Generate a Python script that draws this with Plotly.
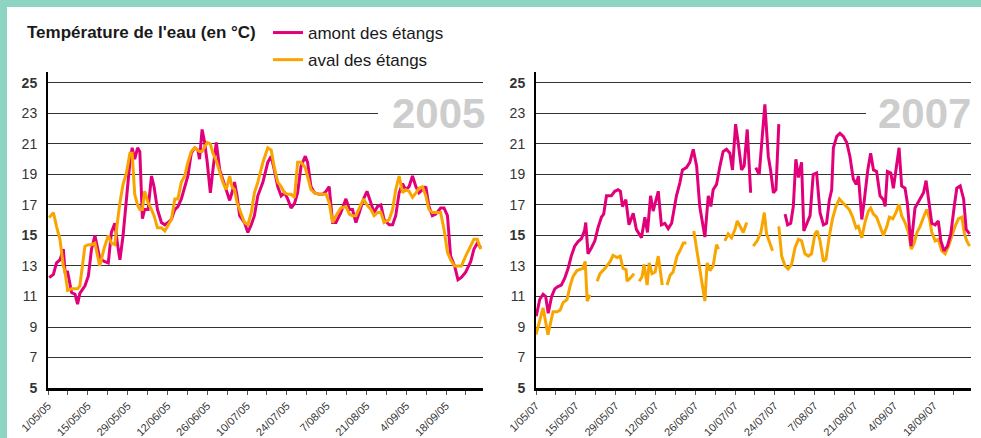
import plotly.graph_objects as go

# ---------------- data ----------------
# day offsets from 1 May
jours_2005 = [0.4,1.9,3.0,4.2,5.4,6.0,6.9,8.3,9.5,10.4,
              11.2,13.0,14.2,15.3,16.5,17.4,18.2,19.8,21.2,22.3,
              23.5,24.4,25.3,26.4,27.6,28.8,29.6,30.5,31.5,32.3,
              33.2,34.0,35.2,36.4,37.3,38.5,39.9,41.1,42.2,43.4,
              44.6,45.7,46.9,48.1,49.2,50.4,51.6,52.7,53.3,54.2,
              55.1,56.0,57.1,58.0,59.2,60.4,61.5,62.7,63.9,64.7,
              65.6,66.5,67.4,69.1,70.3,71.5,72.6,73.8,75.6,77.3,
              78.5,79.6,80.8,82.0,83.2,84.3,85.5,86.7,87.8,89.0,
              90.5,91.3,92.5,93.7,95.4,96.6,97.8,98.9,100.1,101.3,
              103.0,104.8,106.0,107.1,108.3,109.5,111.0,112.2,113.6,114.7,
              115.9,117.1,118.2,120.0,121.2,122.3,123.5,124.7,125.8,127.0,
              128.2,129.4,130.5,131.7,132.9,134.0,135.2,136.4,138.1,139.3,
              140.5,141.6,143.0,144.2,145.4,146.9,148.7,149.8,151.0,152.2]

amont_2005 = [12.24,12.45,13.2,13.4,14.1,12.6,12.6,11.26,11.15,10.5,
              11.2,11.7,12.35,14.1,15.0,14.1,13.5,13.3,13.2,15.2,
              15.8,14.5,13.4,15.0,17.6,19.8,20.75,20.0,20.75,20.5,
              16.1,16.7,16.7,18.9,18.2,16.7,15.85,15.7,15.85,16.05,
              16.7,16.9,17.4,18.1,18.9,20.4,20.75,20.6,20.0,21.95,
              21.1,19.8,17.8,19.3,21.1,19.3,18.7,18.0,17.3,17.8,
              18.5,17.6,16.3,15.85,15.2,15.7,16.3,17.6,18.5,19.8,
              20.2,19.3,18.2,17.6,17.8,17.4,16.8,17.1,17.8,19.55,
              20.2,19.8,18.2,17.8,17.7,17.7,17.9,18.2,15.85,15.85,
              16.5,17.4,16.7,16.7,15.85,16.5,17.4,17.9,17.15,16.5,
              16.9,17.0,16.05,15.7,15.7,16.3,17.8,18.4,18.0,18.2,
              18.9,18.2,17.8,18.0,18.2,16.9,16.3,16.4,16.8,16.8,
              16.3,13.65,13.0,12.1,12.25,12.6,13.3,14.1,14.5,14.2]

aval_2005 = [16.17,16.5,15.6,14.75,13.0,12.6,11.4,11.5,11.5,11.5,
             11.7,14.3,14.4,14.4,14.5,13.7,13.0,14.2,15.0,14.5,
             14.4,15.85,17.15,18.35,19.1,20.4,20.4,17.7,17.0,16.7,
             16.7,17.9,17.15,16.7,16.3,15.5,15.5,15.3,15.7,16.05,
             17.4,17.4,18.5,18.9,19.8,20.5,20.75,20.6,20.5,20.5,
             20.85,21.1,21.0,20.4,19.9,19.1,18.5,18.0,18.9,18.2,
             18.0,17.15,16.7,15.85,15.7,16.5,17.8,18.5,19.8,20.75,
             20.6,19.45,18.5,18.2,17.8,17.7,17.7,17.5,19.8,19.8,
             19.45,18.9,18.0,17.8,17.7,17.7,17.7,17.15,15.85,16.3,
             16.8,16.9,16.4,16.3,16.3,16.8,17.4,17.0,16.7,16.3,
             16.5,16.5,15.85,16.05,16.7,18.0,18.9,17.8,18.0,17.9,
             17.5,17.8,18.1,18.2,17.6,16.7,16.5,16.5,16.5,15.4,
             13.9,13.4,13.0,13.0,13.0,13.65,14.3,14.75,14.75,14.1]

jours_amont_2007 = [0.1,1.3,2.5,3.4,4.3,5.5,6.6,7.7,8.9,10.1,
                    11.3,12.4,13.6,14.8,16.0,17.1,17.5,18.3,19.5,20.7,
                    21.8,23.0,23.8,24.8,26.5,27.7,28.9,29.7,30.4,31.6,
                    32.7,34.2,35.3,37.1,38.3,39.2,40.3,41.2,43.0,44.1,
                    45.3,46.5,47.7,49.4,50.6,51.5,52.9,54.1,55.3,56.5,
                    57.6,59.4,60.6,61.5,62.3,63.5,64.7,65.8,67.0,68.2,
                    69.1,70.2,71.1,72.3,73.2,74.3,75.5,76.4,77.3,78.5,
                    79.5,80.5,81.7,82.5,83.5,84.4,85.4,86.5,87.6,88.5,
                    89.6,90.5,91.4,92.3,93.4,94.2,96.4,97.5,98.7,99.9,
                    101.1,102.2,103.2,104.0,104.6,105.8,106.9,108.1,109.3,110.4,
                    111.6,112.6,113.4,114.6,115.5,116.7,117.7,118.7,119.8,121.0,
                    122.2,122.8,123.6,124.8,125.7,126.6,127.7,128.6,129.8,130.6,
                    131.9,133.3,135.1,136.3,137.2,138.0,139.2,140.4,141.5,142.4,
                    143.5,144.7,145.9,147.1,148.0,149.2,150.4,151.3,152.5]

amont_2007 = [9.7,10.8,11.15,11.0,9.9,11.0,11.5,11.65,11.75,12.2,
              12.85,13.65,14.3,14.6,14.8,15.35,15.85,13.8,14.2,14.65,
              15.5,16.2,16.4,17.6,17.6,17.9,18.0,17.9,16.9,17.35,
              15.7,16.45,15.4,14.85,16.2,15.2,17.6,16.6,17.9,15.7,
              15.8,15.45,15.8,17.6,18.45,19.3,19.45,19.8,20.65,19.55,
              16.9,14.9,17.6,16.9,18.0,18.35,19.55,20.5,20.65,20.4,
              19.3,22.3,21.1,19.3,19.55,21.95,17.8,None,19.45,19.0,
              21.3,23.6,20.2,19.3,17.8,18.0,22.3,None,16.4,15.7,
              15.8,16.9,20.0,18.8,19.8,15.3,16.3,19.0,19.1,16.5,
              15.7,15.8,17.35,18.0,20.75,21.5,21.7,21.5,21.1,20.2,
              18.7,18.35,18.9,16.05,17.35,19.3,20.4,19.3,19.2,17.6,
              17.35,16.9,19.2,19.1,18.1,19.2,20.75,18.25,18.1,17.15,
              14.3,16.8,17.4,17.8,18.6,17.35,15.8,15.7,15.95,14.65,
              14.0,14.3,15.1,16.9,18.1,18.25,17.4,15.4,15.1]

jours_aval_2007 = [0.0,2.5,4.2,6.0,7.4,8.5,9.5,10.9,12.0,13.0,
                   14.4,15.5,16.5,17.3,18.0,19.0,20.2,21.5,22.5,24.3,
                   26.1,27.1,28.5,29.6,30.6,31.7,32.0,33.1,34.5,35.4,
                   36.3,37.3,38.0,39.1,39.8,40.8,41.9,43.0,44.4,45.3,
                   46.1,47.2,48.2,49.6,50.6,51.8,52.9,54.2,55.5,56.5,
                   57.3,58.2,59.4,60.2,61.2,62.3,63.5,64.2,65.3,66.4,
                   67.6,68.8,70.0,70.8,71.7,72.9,74.1,75.2,76.4,77.8,
                   79.1,80.3,81.1,82.3,83.2,84.3,85.4,86.4,87.6,88.7,
                   89.9,91.1,92.3,93.4,94.6,95.8,96.9,98.1,98.9,99.9,
                   101.1,102.0,103.2,104.3,105.5,106.7,107.9,109.0,110.2,111.4,
                   112.6,113.4,114.6,115.7,116.9,117.7,118.7,119.8,121.0,122.2,
                   123.4,124.3,125.5,126.6,127.7,128.6,129.8,131.0,132.0,133.0,
                   134.0,135.1,136.3,137.4,138.4,139.2,140.4,141.5,142.7,143.9,
                   145.1,146.2,147.4,148.6,149.8,150.6,151.5,152.5]

aval_2007 = [8.5,10.25,8.5,10.0,10.0,10.1,10.6,10.8,11.7,12.3,
             12.7,12.8,12.85,13.3,10.7,11.1,None,12.0,12.5,12.85,
             13.3,13.7,13.55,13.65,12.85,12.75,12.0,12.2,12.5,None,
             12.0,12.3,13.1,11.75,13.2,12.5,12.6,13.65,11.75,None,
             11.75,12.4,12.6,13.65,14.0,14.5,14.5,None,15.3,14.1,
             12.9,12.1,10.7,13.2,12.7,13.0,14.4,14.1,None,14.65,
             15.1,14.85,15.4,15.95,15.6,15.2,15.85,None,14.3,14.65,
             15.2,16.5,15.1,14.5,14.0,None,15.6,13.65,13.0,12.8,
             13.1,14.2,14.75,14.65,13.8,13.65,13.8,15.1,15.3,14.65,
             13.3,13.45,15.0,16.1,16.9,17.4,17.15,16.9,16.7,16.2,
             15.5,15.6,14.85,15.85,16.6,16.8,16.4,16.2,15.6,15.0,
             15.6,16.2,16.1,16.5,17.05,16.3,15.85,15.2,14.1,14.5,
             15.2,15.6,16.2,16.7,16.1,15.2,14.65,14.75,14.0,13.8,
             14.3,15.0,15.6,16.1,16.2,15.2,14.65,14.3]

jours_ticks = [0,7,14,21,28,35,42,49,56,63,70,77,84,91,98,105,112,119,126,133,140,147]
labels_2005 = ["1/05/05","","15/05/05","","29/05/05","","12/06/05","","26/06/05","","10/07/05","",
               "24/07/05","","7/08/05","","21/08/05","","4/09/05","","18/09/05",""]
labels_2007 = ["1/05/07","","15/05/07","","29/05/07","","12/06/07","","26/06/07","","10/07/07","",
               "24/07/07","","7/08/07","","21/08/07","","4/09/07","","18/09/07",""]
y_ticks = [5,7,9,11,13,15,17,19,21,23,25]
y_labels = ["<b>5</b>","7","9","11","13","<b>15</b>","17","19","21","23","<b>25</b>"]

serie_noms = ["amont des étangs", "aval des étangs"]
annees = ["2005", "2007"]
titre = "Température de l'eau (en °C)"

MAGENTA = "#E2007A"
ORANGE = "#F9A500"
TEAL = "#8DD4C2"
FONT = "Liberation Sans, Arial, sans-serif"

fig = go.Figure()
fig.add_trace(go.Scatter(x=jours_2005, y=amont_2005, mode="lines", name=serie_noms[0],
                         legendgroup="amont", line=dict(color=MAGENTA, width=3),
                         xaxis="x", yaxis="y"))
fig.add_trace(go.Scatter(x=jours_2005, y=aval_2005, mode="lines", name=serie_noms[1],
                         legendgroup="aval", line=dict(color=ORANGE, width=3),
                         xaxis="x", yaxis="y"))
fig.add_trace(go.Scatter(x=jours_aval_2007, y=aval_2007, mode="lines", name=serie_noms[1],
                         legendgroup="aval", showlegend=False, connectgaps=False,
                         line=dict(color=ORANGE, width=3), xaxis="x2", yaxis="y2"))
fig.add_trace(go.Scatter(x=jours_amont_2007, y=amont_2007, mode="lines", name=serie_noms[0],
                         legendgroup="amont", showlegend=False, connectgaps=False,
                         line=dict(color=MAGENTA, width=3), xaxis="x2", yaxis="y2"))

W, H = 981, 438
ml, mr, mt, mb = 48, 10, 72, 50
pw, ph = W - ml - mr, H - mt - mb

def px_x(p):
    return (p - ml) / pw

def px_y(p):
    return (H - mb - p) / ph

xcommon = dict(range=[0, 153], tickmode="array", tickvals=jours_ticks, tickangle=-45,
               tickfont=dict(size=11, color="#333333", family=FONT),
               showline=True, linewidth=3, linecolor="black", ticks="outside",
               ticklen=4, tickwidth=1, tickcolor="#555555", showgrid=False, zeroline=False,
               fixedrange=True, automargin=False)
ycommon = dict(range=[5, 25.72], tickmode="array", tickvals=y_ticks, ticktext=y_labels,
               tickfont=dict(size=14, color="#333333", family=FONT),
               showgrid=True, gridcolor="#333333", gridwidth=1,
               showline=True, linewidth=2, linecolor="black",
               ticks="outside", ticklen=6, tickcolor="rgba(0,0,0,0)", zeroline=False,
               fixedrange=True, automargin=False)

d1 = [0, px_x(483)]
d2 = [px_x(536), 1]

shapes = [
    dict(type="rect", xref="paper", yref="paper", x0=px_x(0), x1=px_x(W), y0=px_y(7), y1=px_y(0),
         fillcolor=TEAL, line=dict(width=0)),
    dict(type="rect", xref="paper", yref="paper", x0=px_x(0), x1=px_x(7), y0=px_y(H), y1=px_y(0),
         fillcolor=TEAL, line=dict(width=0)),
    dict(type="rect", xref="x domain", yref="y", x0=0.7586, x1=1.0, y0=22.8, y1=23.2,
         fillcolor="white", line=dict(width=0), layer="above"),
    dict(type="rect", xref="x2 domain", yref="y2", x0=0.7586, x1=1.0, y0=22.8, y1=23.2,
         fillcolor="white", line=dict(width=0), layer="above"),
]

annotations = [
    dict(text="<b>" + titre + "</b>", xref="paper", yref="paper", x=px_x(25), y=px_y(32),
         xanchor="left", yanchor="middle", showarrow=False,
         font=dict(size=17, color="#1a1a1a", family=FONT)),
    dict(text="<b>" + annees[0] + "</b>", xref="x domain", yref="y", x=0.8977, y=23,
         xanchor="center", yanchor="middle", showarrow=False,
         font=dict(size=42, color="#CDCDCD", family=FONT)),
    dict(text="<b>" + annees[1] + "</b>", xref="x2 domain", yref="y2", x=0.894, y=23,
         xanchor="center", yanchor="middle", showarrow=False,
         font=dict(size=42, color="#CDCDCD", family=FONT)),
]

fig.update_layout(
    width=W, height=H,
    margin=dict(l=ml, r=mr, t=mt, b=mb, pad=0, autoexpand=False),
    paper_bgcolor="white", plot_bgcolor="white",
    font=dict(family=FONT, color="#222222"),
    xaxis=dict(domain=d1, ticktext=labels_2005, anchor="y", **xcommon),
    yaxis=dict(domain=[0, 1], anchor="x", **ycommon),
    xaxis2=dict(domain=d2, ticktext=labels_2007, anchor="y2", **xcommon),
    yaxis2=dict(domain=[0, 1], anchor="x2", **ycommon),
    showlegend=True,
    legend=dict(x=px_x(268), y=px_y(15), xanchor="left", yanchor="top",
                orientation="v", font=dict(size=17, color="#1a1a1a", family=FONT),
                bgcolor="rgba(0,0,0,0)", borderwidth=0, tracegroupgap=2,
                traceorder="grouped", itemclick=False, itemdoubleclick=False),
    shapes=shapes, annotations=annotations,
)

fig.write_html("out.html", config={"displayModeBar": False},
               post_script="document.body.style.margin='0px';document.body.style.padding='0px';")
